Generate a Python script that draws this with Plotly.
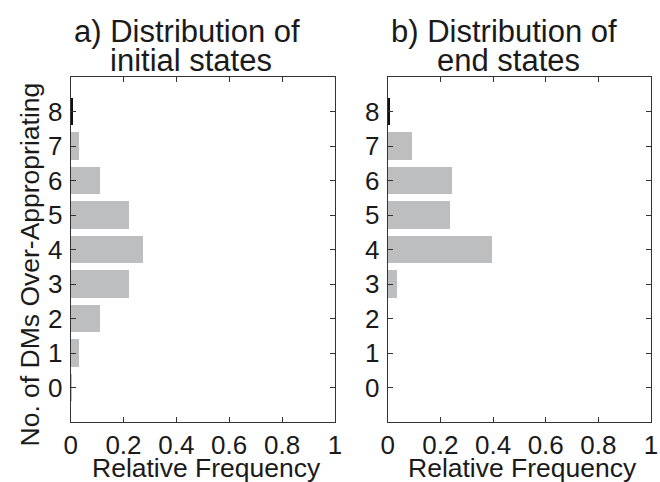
import plotly.graph_objects as go

states = [0, 1, 2, 3, 4, 5, 6, 7, 8]
initial_freq = [0.003, 0.032, 0.109, 0.218, 0.273, 0.218, 0.109, 0.032, 0.0]
end_freq = [0.0, 0.0, 0.0, 0.036, 0.395, 0.236, 0.243, 0.091, 0.0]
marker_state = [8]
marker_freq = [0.005]
x_ticks = [0, 0.2, 0.4, 0.6, 0.8, 1]
x_ticktext = ["0", "0.2", "0.4", "0.6", "0.8", "1"]
y_ticks = [0, 1, 2, 3, 4, 5, 6, 7, 8]

W, H = 660, 482
T, B = 77, 60
FONT = "Liberation Sans, Arial, sans-serif"
BAR = "#bdbec0"
TXT = "#1a1a1a"

fig = go.Figure()
for xa, ya, vals in [("x", "y", initial_freq), ("x2", "y2", end_freq)]:
    fig.add_trace(go.Bar(x=vals, y=states, orientation="h", width=0.8,
                         marker=dict(color=BAR, line=dict(width=0)),
                         xaxis=xa, yaxis=ya, showlegend=False))
    fig.add_trace(go.Bar(x=marker_freq, y=marker_state, orientation="h", width=0.8,
                         marker=dict(color="#111111", line=dict(width=0)),
                         xaxis=xa, yaxis=ya, showlegend=False))

axis_common = dict(showline=True, linecolor="#333333", linewidth=1, mirror="ticks",
                   ticks="inside", ticklen=5, tickcolor="#333333", showgrid=False,
                   zeroline=False, tickfont=dict(family=FONT, size=26, color=TXT))

fig.update_layout(
    width=W, height=H,
    margin=dict(l=0, r=0, t=T, b=B),
    paper_bgcolor="white", plot_bgcolor="white",
    bargap=0, barmode="overlay",
    xaxis=dict(domain=[65 / W, 335 / W], range=[0, 1], tickvals=x_ticks,
               ticktext=x_ticktext, anchor="y", ticklabelstandoff=0, **axis_common),
    yaxis=dict(domain=[0, 1], range=[-1, 9], tickvals=y_ticks, anchor="x",
               ticklabelstandoff=2, **axis_common),
    xaxis2=dict(domain=[389 / W, 658 / W], range=[0, 1], tickvals=x_ticks,
                ticktext=x_ticktext, anchor="y2", ticklabelstandoff=0, **axis_common),
    yaxis2=dict(domain=[0, 1], range=[-1, 9], tickvals=y_ticks, anchor="x2",
                ticklabelstandoff=2, **axis_common),
)

PH = H - T - B

def ann(text, x, y, size, angle=0):
    fig.add_annotation(text=text, x=x / W, y=(H - B - y) / PH, xref="paper", yref="paper",
                       showarrow=False, xanchor="center", yanchor="middle",
                       textangle=angle, font=dict(family=FONT, size=size, color=TXT))

ann("a) Distribution of", 184, 31, 31)
ann("initial states", 188, 61, 31)
ann("b) Distribution of", 508, 31, 31)
ann("end states", 512, 61, 31)
ann("Relative Frequency", 204, 467.5, 26.5)
ann("Relative Frequency", 527, 467.5, 26.5)
ann("No. of DMs Over-Appropriating", 24, 264, 26.5, angle=-90)

fig.write_html("out.html")
